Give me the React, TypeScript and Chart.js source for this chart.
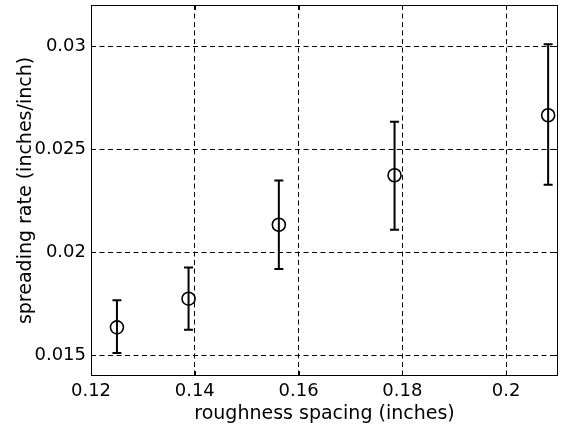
import { useEffect, useRef } from 'react';
import { Chart, registerables } from 'chart.js';

Chart.register(...registerables);

// Roughness spacing (inches) for each test
const spacing = [0.125, 0.1388, 0.1562, 0.1785, 0.2081];
// Mean spreading rate (inches/inch)
const rate = [0.01636, 0.01775, 0.02134, 0.02374, 0.02665];
// Lower and upper ends of each error bar
const errLow = [0.01512, 0.01625, 0.01919, 0.0211, 0.02328];
const errHigh = [0.01767, 0.01927, 0.02348, 0.02634, 0.0301];

// Axis ticks and their labels
const xTicks = [0.12, 0.14, 0.16, 0.18, 0.2];
const xTickLabels = ['0.12', '0.14', '0.16', '0.18', '0.2'];
const yTicks = [0.015, 0.02, 0.025, 0.03];
const yTickLabels = ['0.015', '0.02', '0.025', '0.03'];

const FONT = '"DejaVu Sans", "Liberation Sans", sans-serif';

// Vertical error bars with caps, drawn through the markers
const errorBars = {
  id: 'errorBars',
  afterDatasetsDraw(chart: any) {
    const { ctx, scales } = chart;
    const x = scales.x;
    const y = scales.y;
    ctx.save();
    ctx.strokeStyle = '#000';
    ctx.lineWidth = 2;
    ctx.lineCap = 'butt';
    const cap = 4.5;
    spacing.forEach((s, i) => {
      const px = x.getPixelForValue(s);
      const top = y.getPixelForValue(errHigh[i]);
      const bot = y.getPixelForValue(errLow[i]);
      ctx.beginPath();
      ctx.moveTo(px, top);
      ctx.lineTo(px, bot);
      ctx.moveTo(px - cap, top);
      ctx.lineTo(px + cap, top);
      ctx.moveTo(px - cap, bot);
      ctx.lineTo(px + cap, bot);
      ctx.stroke();
    });
    ctx.restore();
  },
};

// Closed axes box with short inward tick marks on every side
const axesBox = {
  id: 'axesBox',
  afterDraw(chart: any) {
    const { ctx, chartArea, scales } = chart;
    const { left, right, top, bottom } = chartArea;
    const len = 5;
    ctx.save();
    ctx.strokeStyle = '#000';
    ctx.lineWidth = 1;
    ctx.beginPath();
    xTicks.forEach((v) => {
      const px = Math.round(scales.x.getPixelForValue(v)) + 0.5;
      ctx.moveTo(px, bottom);
      ctx.lineTo(px, bottom - len);
      ctx.moveTo(px, top);
      ctx.lineTo(px, top + len);
    });
    yTicks.forEach((v) => {
      const py = Math.round(scales.y.getPixelForValue(v)) + 0.5;
      ctx.moveTo(left, py);
      ctx.lineTo(left + len, py);
      ctx.moveTo(right, py);
      ctx.lineTo(right - len, py);
    });
    ctx.stroke();
    ctx.strokeRect(left + 0.5, top + 0.5, right - left - 1, bottom - top - 1);
    ctx.restore();
  },
};

// Fixed axis box sizes, without the label overhang padding
const fitBox = (size: 'width' | 'height', value: number) => (s: any) => {
  s[size] = value;
  s.paddingTop = 0;
  s.paddingBottom = 0;
  s.paddingLeft = 0;
  s.paddingRight = 0;
};

export default function App() {
  const canvasRef = useRef<HTMLCanvasElement | null>(null);

  useEffect(() => {
    const canvas = canvasRef.current;
    if (!canvas) return;
    const chart = new Chart(canvas, {
      type: 'scatter',
      data: {
        datasets: [
          {
            data: spacing.map((s, i) => ({ x: s, y: rate[i] })),
            pointStyle: 'circle',
            pointRadius: 6.5,
            pointHoverRadius: 6.5,
            pointBorderWidth: 1.6,
            pointBorderColor: '#000',
            pointBackgroundColor: 'rgba(0,0,0,0)',
            showLine: false,
          },
        ],
      },
      options: {
        responsive: false,
        animation: false,
        devicePixelRatio: 1,
        layout: { autoPadding: false, padding: { top: 5, right: 3, left: 0, bottom: 0 } },
        plugins: {
          legend: { display: false },
          tooltip: { enabled: false },
        },
        scales: {
          x: {
            type: 'linear',
            min: 0.12,
            max: 0.21,
            afterBuildTicks: (s: any) => {
              s.ticks = xTicks.map((v) => ({ value: v }));
            },
            afterFit: fitBox('height', 52),
            ticks: {
              callback: (_v: any, i: number) => xTickLabels[i],
              font: { family: FONT, size: 18 },
              color: '#000',
              padding: 5,
              maxRotation: 0,
              autoSkip: false,
            },
            grid: { color: '#000', lineWidth: 1, drawTicks: false },
            border: { display: false, dash: [5, 3.5] },
            title: {
              display: true,
              text: 'roughness spacing (inches)',
              font: { family: FONT, size: 19 },
              color: '#000',
              padding: { top: 0, bottom: 3 },
            },
          },
          y: {
            type: 'linear',
            min: 0.014,
            max: 0.032,
            afterBuildTicks: (s: any) => {
              s.ticks = yTicks.map((v) => ({ value: v }));
            },
            afterFit: fitBox('width', 91),
            ticks: {
              callback: (_v: any, i: number) => yTickLabels[i],
              font: { family: FONT, size: 18 },
              color: '#000',
              padding: 5,
              autoSkip: false,
            },
            grid: { color: '#000', lineWidth: 1, drawTicks: false },
            border: { display: false, dash: [5, 3.5] },
            title: {
              display: true,
              text: 'spreading rate (inches/inch)',
              font: { family: FONT, size: 19 },
              color: '#000',
              padding: { top: 14.6, bottom: 0 },
            },
          },
        },
      },
      plugins: [errorBars, axesBox],
    });
    return () => chart.destroy();
  }, []);

  return (
    <div style={{ position: 'fixed', left: 0, top: 0, width: 561, height: 428, background: '#fff' }}>
      <canvas ref={canvasRef} width={561} height={428} style={{ display: 'block' }} />
    </div>
  );
}
